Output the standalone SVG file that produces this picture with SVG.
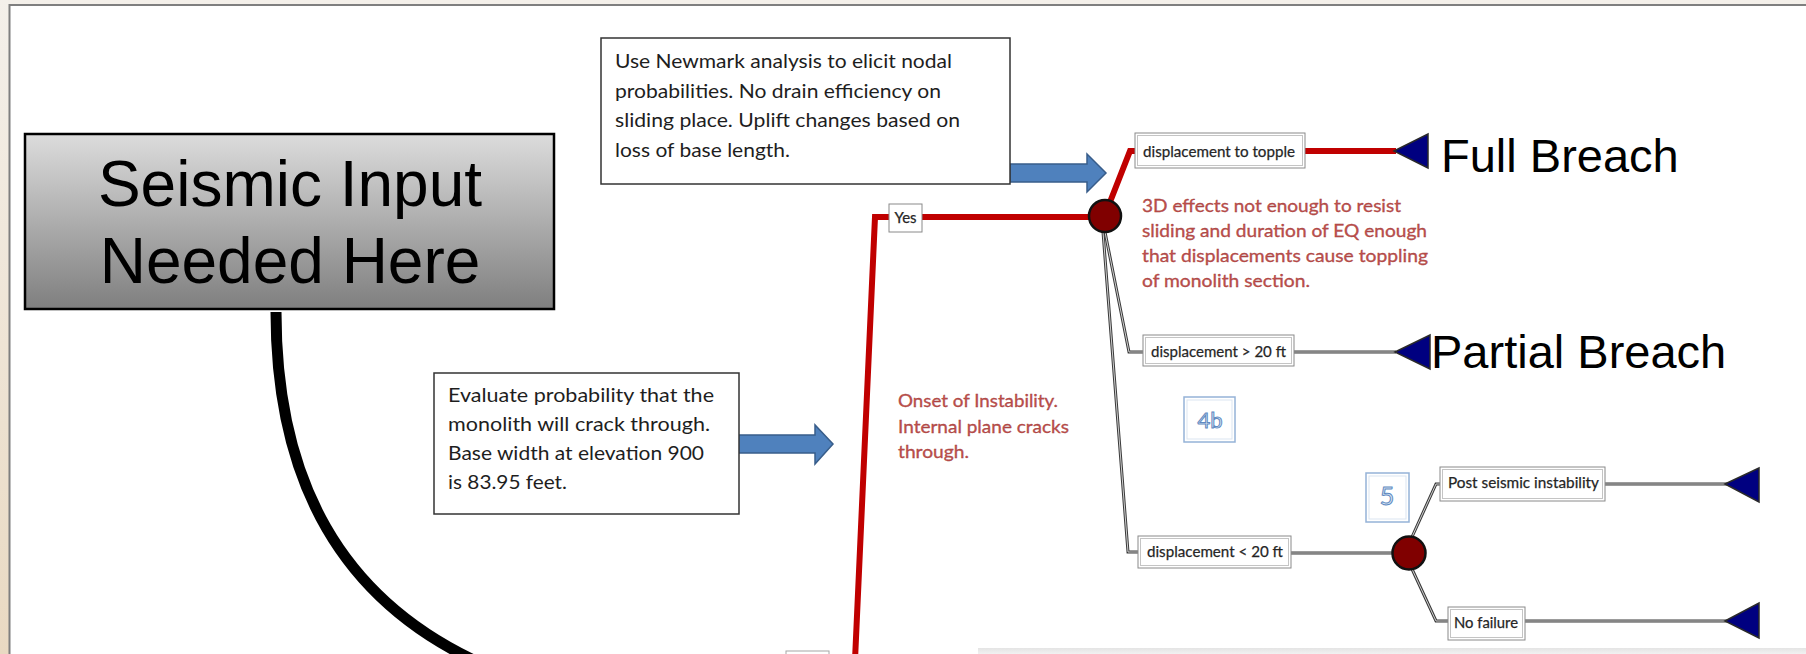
<svg xmlns="http://www.w3.org/2000/svg" width="1806" height="654" viewBox="0 0 1806 654">
<style>
.note{font-family:Lato,"Liberation Sans",sans-serif;font-size:20px;fill:#1e1e1e}
.red{font-family:Lato,"Liberation Sans",sans-serif;font-size:18px;fill:#c0504d;stroke:#9c3a38;stroke-width:0.3}
.lbl{font-family:Lato,"Liberation Sans",sans-serif;font-size:15px;fill:#222;stroke:#333;stroke-width:0.25}
.big{font-family:"Liberation Sans",Arial,sans-serif;font-size:47px;fill:#000}
.box{fill:#fff;stroke:#8a8a8a;stroke-width:1}
.boxin{fill:none;stroke:#c4c4c4;stroke-width:1}
.num{font-family:Lato,"Liberation Sans",sans-serif;fill:#dbe5f1;stroke:#5f8ac2;stroke-width:1;text-anchor:middle}
.dbl{fill:none;stroke:#3a3a3a;stroke-width:3;stroke-linejoin:miter}
.dbli{fill:none;stroke:#d0d0d0;stroke-width:1}
.redl{fill:none;stroke:#c00000;stroke-width:6;stroke-linejoin:miter}
.tri{fill:#000080;stroke:#2a2a2a;stroke-width:1.5}
.chance{fill:#800000;stroke:#111;stroke-width:2.5}
.blue{fill:#4f81bd;stroke:#385d8a;stroke-width:1.5}
</style>
<defs>
<linearGradient id="gbox" x1="0" y1="0" x2="0" y2="1">
<stop offset="0" stop-color="#dcdcdc"/>
<stop offset="1" stop-color="#7f7f7f"/>
</linearGradient>
<linearGradient id="gleft" x1="0" y1="0" x2="0" y2="1">
<stop offset="0" stop-color="#f4f0ea"/>
<stop offset="1" stop-color="#e9d9c2"/>
</linearGradient>
<linearGradient id="gbot" x1="0" y1="0" x2="0" y2="1">
<stop offset="0" stop-color="#e4e4e4"/>
<stop offset="1" stop-color="#f6f6f6"/>
</linearGradient>
</defs>

<!-- background -->
<rect x="0" y="0" width="1806" height="654" fill="#f4f0ea"/>
<rect x="0" y="0" width="10" height="654" fill="url(#gleft)"/>
<rect x="9.5" y="5" width="1810" height="670" fill="#fff" stroke="#7f7f7f" stroke-width="2"/>
<rect x="978" y="648" width="830" height="8" fill="url(#gbot)"/>
<rect x="786" y="651" width="43" height="6" fill="#fff" stroke="#a6a6a6" stroke-width="1"/>

<!-- connectors -->
<g id="connectors">
<path d="M276,312 C276,480 340,600 482,664" fill="none" stroke="#000" stroke-width="11"/>
<path class="blue" d="M1010,164 L1087,164 L1087,154 L1106,173 L1087,192 L1087,182 L1010,182 Z"/>
<path class="blue" d="M738,435 L815,435 L815,425 L833,444 L815,464 L815,453 L738,453 Z"/>
<path class="redl" d="M855,660 L875,217 L889,217"/>
<path class="redl" d="M922,217 L1090,217"/>
<path class="redl" d="M1110,202 L1130,151 L1135,151"/>
<path class="redl" d="M1305,151 L1396,151"/>
<path class="dbl" d="M1105,232 L1129,352 L1143,352"/>
<path class="dbli" d="M1105,232 L1129,352 L1143,352"/>
<path class="dbl" d="M1103,232 L1128,552 L1138,552"/>
<path class="dbli" d="M1103,232 L1128,552 L1138,552"/>
<path class="dbl" d="M1294,352 L1396,352"/>
<path class="dbli" d="M1294,352 L1396,352"/>
<path class="dbl" d="M1291,553 L1393,553"/>
<path class="dbli" d="M1291,553 L1393,553"/>
<path class="dbl" d="M1412,537 L1436,484 L1440,484"/>
<path class="dbli" d="M1412,537 L1436,484 L1440,484"/>
<path class="dbl" d="M1605,484 L1727,484"/>
<path class="dbli" d="M1605,484 L1727,484"/>
<path class="dbl" d="M1412,569 L1436,621 L1448,621"/>
<path class="dbli" d="M1412,569 L1436,621 L1448,621"/>
<path class="dbl" d="M1525,621 L1727,621"/>
<path class="dbli" d="M1525,621 L1727,621"/>
</g>

<!-- seismic node -->
<g id="seismic">
<rect x="25" y="134" width="529" height="175" fill="url(#gbox)" stroke="#000" stroke-width="2.5"/>
<text x="290" y="206" font-family="'Liberation Sans',Arial,sans-serif" font-size="64" text-anchor="middle" fill="#000">Seismic Input</text>
<text x="290" y="283" font-family="'Liberation Sans',Arial,sans-serif" font-size="64" text-anchor="middle" fill="#000">Needed Here</text>
</g>

<g id="newmark">
<rect x="601" y="38" width="409" height="146" fill="#fff" stroke="#333" stroke-width="1.5"/>
<text class="note" x="615" y="68" textLength="337" lengthAdjust="spacingAndGlyphs">Use Newmark analysis to elicit nodal</text>
<text class="note" x="615" y="98" textLength="326" lengthAdjust="spacingAndGlyphs">probabilities. No drain efficiency on</text>
<text class="note" x="615" y="127" textLength="345" lengthAdjust="spacingAndGlyphs">sliding place. Uplift changes based on</text>
<text class="note" x="615" y="157" textLength="175" lengthAdjust="spacingAndGlyphs">loss of base length.</text>
</g>

<g id="evaluate">
<rect x="434" y="373" width="305" height="141" fill="#fff" stroke="#333" stroke-width="1.5"/>
<text class="note" x="448" y="402" textLength="266" lengthAdjust="spacingAndGlyphs">Evaluate probability that the</text>
<text class="note" x="448" y="431" textLength="262" lengthAdjust="spacingAndGlyphs">monolith will crack through.</text>
<text class="note" x="448" y="460" textLength="256" lengthAdjust="spacingAndGlyphs">Base width at elevation 900</text>
<text class="note" x="448" y="489" textLength="119" lengthAdjust="spacingAndGlyphs">is 83.95 feet.</text>
</g>

<g id="yes">
<rect class="box" x="889" y="204" width="33" height="28"/>
<text class="lbl" x="905.5" y="223" text-anchor="middle" font-size="13">Yes</text>
</g>

<g id="onset">
<text class="red" x="898" y="407" textLength="160" lengthAdjust="spacingAndGlyphs">Onset of Instability.</text>
<text class="red" x="898" y="433" textLength="171" lengthAdjust="spacingAndGlyphs">Internal plane cracks</text>
<text class="red" x="898" y="458" textLength="71" lengthAdjust="spacingAndGlyphs">through.</text>
</g>

<g id="chance1">
<circle class="chance" cx="1105" cy="216" r="16"/>
</g>

<g id="topple">
<rect class="box" x="1135" y="133" width="170" height="35"/>
<rect class="boxin" x="1137.5" y="135.5" width="165" height="30"/>
<text class="lbl" x="1143" y="157" textLength="152" lengthAdjust="spacingAndGlyphs">displacement to topple</text>
</g>

<g id="effects">
<text class="red" x="1142" y="212" textLength="259" lengthAdjust="spacingAndGlyphs">3D effects not enough to resist</text>
<text class="red" x="1142" y="237" textLength="285" lengthAdjust="spacingAndGlyphs">sliding and duration  of EQ enough</text>
<text class="red" x="1142" y="262" textLength="286" lengthAdjust="spacingAndGlyphs">that displacements  cause toppling</text>
<text class="red" x="1142" y="287" textLength="168" lengthAdjust="spacingAndGlyphs">of monolith  section.</text>
</g>

<g id="fullbreach">
<polygon class="tri" points="1394,151 1428,134 1428,168"/>
<text class="big" x="1441" y="172">Full Breach</text>
</g>

<g id="gt20">
<rect class="box" x="1143" y="335" width="151" height="31"/>
<rect class="boxin" x="1145.5" y="337.5" width="146" height="26"/>
<text class="lbl" x="1151" y="357" textLength="135" lengthAdjust="spacingAndGlyphs">displacement &gt; 20 ft</text>
</g>

<g id="partialbreach">
<polygon class="tri" points="1395,352 1430,335 1430,369"/>
<text class="big" x="1431" y="368">Partial Breach</text>
</g>

<g id="n4b">
<rect x="1184" y="397" width="51" height="45" fill="#fff" stroke="#95b3d7" stroke-width="1.5"/>
<rect x="1187" y="400" width="45" height="39" fill="none" stroke="#dbe5f1" stroke-width="1"/>
<text class="num" x="1210" y="428" font-size="22">4b</text>
</g>

<g id="lt20">
<rect class="box" x="1138" y="536" width="153" height="32"/>
<rect class="boxin" x="1140.5" y="538.5" width="148" height="27"/>
<text class="lbl" x="1147" y="557" textLength="136" lengthAdjust="spacingAndGlyphs">displacement &lt; 20 ft</text>
</g>

<g id="n5">
<rect x="1366" y="473" width="43" height="49" fill="#fff" stroke="#95b3d7" stroke-width="1.5"/>
<rect x="1369" y="476" width="37" height="43" fill="none" stroke="#dbe5f1" stroke-width="1"/>
<text class="num" x="1387" y="505" font-size="25">5</text>
</g>

<g id="chance2">
<circle class="chance" cx="1409" cy="553" r="16.5"/>
</g>

<g id="postseismic">
<rect class="box" x="1440" y="467" width="165" height="34"/>
<rect class="boxin" x="1442.5" y="469.5" width="160" height="29"/>
<text class="lbl" x="1448" y="488" textLength="151" lengthAdjust="spacingAndGlyphs">Post seismic instability</text>
<polygon class="tri" points="1725,484 1759,468 1759,502"/>
</g>

<g id="nofailure">
<rect class="box" x="1448" y="607" width="77" height="33"/>
<rect class="boxin" x="1450.5" y="609.5" width="72" height="28"/>
<text class="lbl" x="1454" y="628" textLength="64" lengthAdjust="spacingAndGlyphs">No failure</text>
<polygon class="tri" points="1725,621 1759,603 1759,638"/>
</g>
</svg>
